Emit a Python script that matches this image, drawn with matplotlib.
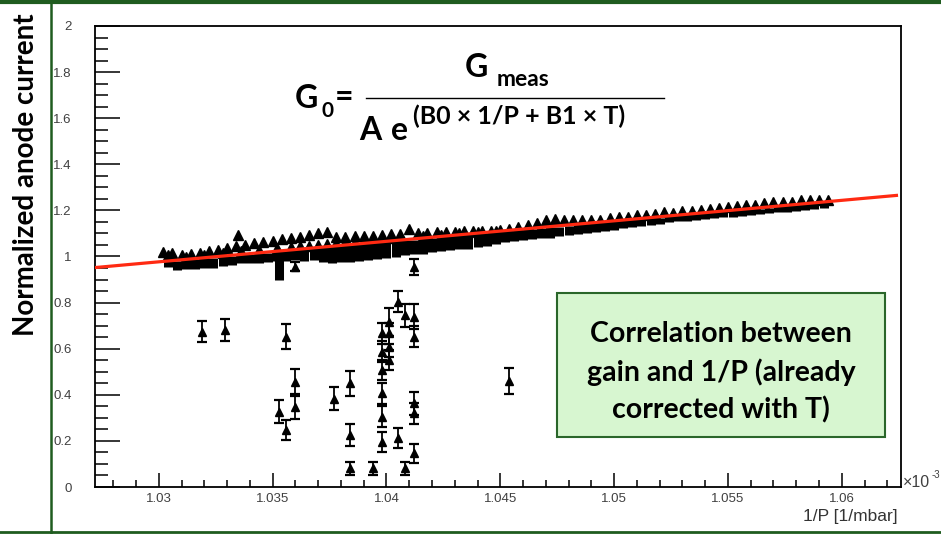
import matplotlib
matplotlib.use("Agg")
import matplotlib.pyplot as plt
from matplotlib.lines import Line2D
from matplotlib.patches import Rectangle
from matplotlib.ticker import MultipleLocator, FormatStrFormatter

# 1/P in units of 1e-3 1/mbar
upper_x = [1.0302, 1.0306, 1.0310, 1.0314, 1.0318, 1.0322, 1.0326, 1.0330, 1.0334, 1.0338,
           1.0342, 1.0346, 1.0350, 1.0354, 1.0358, 1.0362, 1.0366, 1.0370, 1.0374, 1.0378,
           1.0382, 1.0386, 1.0390, 1.0394, 1.0398, 1.0402, 1.0406, 1.0410, 1.0414, 1.0418,
           1.0422, 1.0426, 1.0430, 1.0434, 1.0438, 1.0442, 1.0446, 1.0450, 1.0454, 1.0458,
           1.0462, 1.0466, 1.0470, 1.0474, 1.0478, 1.0482, 1.0486, 1.0490, 1.0494, 1.0498,
           1.0502, 1.0506, 1.0510, 1.0514, 1.0518, 1.0522, 1.0526, 1.0530, 1.0534, 1.0538,
           1.0542, 1.0546, 1.0550, 1.0554, 1.0558, 1.0562, 1.0566, 1.0570, 1.0574, 1.0578,
           1.0582, 1.0586, 1.0590, 1.0594, 1.0335]
upper_y = [1.020, 1.014, 1.008, 1.009, 1.015, 1.023, 1.029, 1.036, 1.044, 1.050,
           1.059, 1.065, 1.068, 1.074, 1.080, 1.085, 1.092, 1.104, 1.105, 1.086,
           1.085, 1.088, 1.089, 1.091, 1.094, 1.097, 1.099, 1.118, 1.103, 1.104,
           1.105, 1.106, 1.107, 1.109, 1.109, 1.110, 1.111, 1.115, 1.120, 1.127,
           1.135, 1.147, 1.158, 1.161, 1.160, 1.158, 1.157, 1.158, 1.159, 1.165,
           1.171, 1.172, 1.178, 1.180, 1.185, 1.191, 1.190, 1.196, 1.197, 1.203,
           1.206, 1.212, 1.213, 1.217, 1.222, 1.224, 1.230, 1.236, 1.237, 1.238,
           1.247, 1.247, 1.247, 1.247, 1.093]

second_x = [1.0304, 1.0312, 1.0320, 1.0328, 1.0336, 1.0344, 1.0352, 1.0358, 1.0362,
            1.0366, 1.0370, 1.0374, 1.0378, 1.0382, 1.0386, 1.0390, 1.0394, 1.0398,
            1.0402, 1.0406, 1.0416, 1.0424, 1.0432, 1.0440, 1.0448]
second_y = [1.005, 1.000, 1.006, 1.014, 1.022, 1.030, 1.036, 1.040, 1.044,
            1.047, 1.051, 1.055, 1.058, 1.062, 1.065, 1.069, 1.072, 1.076,
            1.079, 1.083, 1.088, 1.094, 1.100, 1.106, 1.112]

band_x = [1.0304, 1.0308, 1.0312, 1.0316, 1.0320, 1.0324, 1.0328, 1.0332, 1.0336, 1.0340,
          1.0344, 1.0348, 1.0352, 1.0356, 1.0360, 1.0364, 1.0368, 1.0372, 1.0376, 1.0380,
          1.0384, 1.0388, 1.0392, 1.0396, 1.0400, 1.0404, 1.0408, 1.0412, 1.0416, 1.0420,
          1.0424, 1.0428, 1.0432, 1.0436, 1.0440, 1.0444, 1.0448, 1.0452, 1.0456, 1.0460,
          1.0464, 1.0468, 1.0472, 1.0476, 1.0480, 1.0484, 1.0488, 1.0492, 1.0496, 1.0500,
          1.0504, 1.0508, 1.0512, 1.0516, 1.0520, 1.0524, 1.0528, 1.0532, 1.0536, 1.0540,
          1.0544, 1.0548, 1.0552, 1.0556, 1.0560, 1.0564, 1.0568, 1.0572, 1.0576, 1.0580,
          1.0584, 1.0588, 1.0592, 1.0353]
band_y = [0.968, 0.961, 0.965, 0.966, 0.970, 0.973, 0.979, 0.982, 0.988, 0.991,
          0.993, 0.997, 1.000, 1.002, 1.005, 1.006, 1.009, 1.008, 1.006, 1.010,
          1.013, 1.017, 1.020, 1.024, 1.028, 1.031, 1.038, 1.041, 1.045, 1.050,
          1.054, 1.057, 1.061, 1.064, 1.070, 1.074, 1.080, 1.087, 1.090, 1.094,
          1.097, 1.101, 1.104, 1.110, 1.113, 1.117, 1.121, 1.126, 1.130, 1.133,
          1.139, 1.142, 1.147, 1.150, 1.155, 1.160, 1.164, 1.168, 1.171, 1.175,
          1.178, 1.182, 1.185, 1.189, 1.192, 1.196, 1.199, 1.203, 1.206, 1.210,
          1.213, 1.217, 1.221, 0.965]
band_err = [0.012, 0.020, 0.020, 0.022, 0.022, 0.022, 0.020, 0.020, 0.018, 0.018,
            0.020, 0.020, 0.020, 0.022, 0.022, 0.025, 0.025, 0.030, 0.035, 0.035,
            0.035, 0.035, 0.035, 0.035, 0.035, 0.035, 0.032, 0.032, 0.032, 0.030,
            0.030, 0.030, 0.030, 0.030, 0.028, 0.028, 0.025, 0.022, 0.022, 0.022,
            0.022, 0.022, 0.022, 0.020, 0.020, 0.020, 0.020, 0.018, 0.018, 0.018,
            0.016, 0.016, 0.015, 0.015, 0.014, 0.012, 0.012, 0.012, 0.012, 0.012,
            0.012, 0.012, 0.012, 0.012, 0.012, 0.012, 0.012, 0.012, 0.012, 0.012,
            0.012, 0.012, 0.012, 0.065]

out_x = [1.0319, 1.0329, 1.0356, 1.0353, 1.0356, 1.0360, 1.0360, 1.0377, 1.0384, 1.0384,
         1.0384, 1.0394, 1.0398, 1.0398, 1.0398, 1.0398, 1.0398, 1.0398, 1.0401, 1.0401,
         1.0401, 1.0401, 1.0405, 1.0408, 1.0412, 1.0412, 1.0412, 1.0412, 1.0412, 1.0405,
         1.0408, 1.0412, 1.0454, 1.0360]
out_y = [0.674, 0.681, 0.652, 0.327, 0.247, 0.346, 0.457, 0.382, 0.450, 0.226,
         0.081, 0.081, 0.197, 0.305, 0.407, 0.508, 0.587, 0.667, 0.717, 0.667,
         0.609, 0.551, 0.804, 0.746, 0.739, 0.652, 0.363, 0.320, 0.146, 0.211,
         0.081, 0.955, 0.460, 0.956]
out_err = [0.045, 0.046, 0.053, 0.049, 0.043, 0.050, 0.053, 0.050, 0.054, 0.047,
           0.028, 0.028, 0.043, 0.045, 0.045, 0.045, 0.045, 0.045, 0.060, 0.045,
           0.045, 0.045, 0.045, 0.050, 0.055, 0.045, 0.050, 0.045, 0.040, 0.043,
           0.028, 0.035, 0.058, 0.020]

fit_x = [1.0272, 1.0624]
fit_y = [0.952, 1.265]

W, H = 941, 534
fx = lambda px: px / W
fy = lambda py: 1 - py / H

plt.rcParams['font.family'] = ['Liberation Sans', 'DejaVu Sans']
fig = plt.figure(figsize=(9.41, 5.34), dpi=100)
fig.patch.set_facecolor('white')
ax = fig.add_axes([fx(95), fy(487), (901 - 95) / W, (487 - 26) / H])

ax.errorbar(band_x, band_y, yerr=band_err, fmt='none', ecolor='black', elinewidth=6.5, zorder=2)
ax.errorbar(out_x, out_y, yerr=out_err, fmt='^', color='black', ms=5.5, elinewidth=1.3,
            capsize=3.5, capthick=1.6, zorder=3)
ax.plot(second_x, second_y, '^', color='black', ms=6.5, zorder=3)
ax.plot(upper_x, upper_y, '^', color='black', ms=6.5, zorder=3)
ax.plot(fit_x, fit_y, color='#ff2a12', lw=2.3, zorder=4)

ax.set_xlim(1.0272, 1.0626)
ax.set_ylim(0, 2)
ax.xaxis.set_major_locator(MultipleLocator(0.005))
ax.xaxis.set_minor_locator(MultipleLocator(0.001))
ax.yaxis.set_major_locator(MultipleLocator(0.2))
ax.yaxis.set_minor_locator(MultipleLocator(0.05))
ax.xaxis.set_major_formatter(FormatStrFormatter('%g'))
ax.yaxis.set_major_formatter(FormatStrFormatter('%g'))
ax.tick_params(axis='both', which='both', direction='in', top=False, right=False,
               labelcolor='#404040', labelsize=9.5, color='black')
ax.tick_params(axis='y', which='major', length=18, width=1.1, pad=17)
ax.tick_params(axis='y', which='minor', length=9.5, width=1.1)
ax.tick_params(axis='x', which='major', length=10, width=1.1, pad=4)
ax.tick_params(axis='x', which='minor', length=5, width=1.1)
for s in ax.spines.values():
    s.set_linewidth(1.3)

fig.text(fx(903), fy(487), '×10', ha='left', va='baseline', fontsize=11.5, color='#404040')
fig.text(fx(932), fy(478), '-3', ha='left', va='baseline', fontsize=7, color='#404040')
fig.text(fx(898), fy(521), '1/P [1/mbar]', ha='right', va='baseline', fontsize=12.5, color='#333333')

# slide decoration
green = '#1f5c1f'
fig.add_artist(Line2D([0, 1], [fy(2), fy(2)], color=green, lw=3, transform=fig.transFigure))
fig.add_artist(Line2D([fx(51), fx(51)], [fy(3), fy(534)], color=green, lw=1.8, transform=fig.transFigure))
fig.add_artist(Line2D([0, 1], [fy(531.5), fy(531.5)], color=green, lw=2, transform=fig.transFigure))

bold = dict(family=['Lato', 'DejaVu Sans'], fontweight='bold', color='black')
fig.text(fx(26), fy(175), 'Normalized anode current', rotation=90, ha='center', va='center',
         fontsize=20, **bold)

# formula
fig.text(fx(295), fy(108), 'G', ha='left', va='baseline', fontsize=23, **bold)
fig.text(fx(321), fy(117), '0', ha='left', va='baseline', fontsize=15, **bold)
fig.text(fx(335), fy(97), '=', ha='left', va='center', fontsize=23, **bold)
fig.add_artist(Line2D([fx(366), fx(664)], [fy(97.5), fy(97.5)], color='black', lw=1,
                      transform=fig.transFigure))
fig.text(fx(465), fy(77), 'G', ha='left', va='baseline', fontsize=23, **bold)
fig.text(fx(497), fy(86), 'meas', ha='left', va='baseline', fontsize=16.5, **bold)
fig.text(fx(359), fy(140), 'A', ha='left', va='baseline', fontsize=23, **bold)
fig.text(fx(391), fy(140), 'e', ha='left', va='baseline', fontsize=23, **bold)
fig.text(fx(413), fy(124), '(B0 × 1/P + B1 × T)', ha='left', va='baseline', fontsize=18, **bold)

# comment box
fig.add_artist(Rectangle((fx(557), fy(437)), (885 - 557) / W, (437 - 293) / H,
                         facecolor='#d7f6d0', edgecolor='#2a662a', lw=1.5,
                         transform=fig.transFigure, zorder=5))
for txt, yy in [('Correlation between', 334), ('gain and 1/P (already', 372),
                ('corrected with T)', 410)]:
    fig.text(fx(721), fy(yy), txt, ha='center', va='center', fontsize=20.5, zorder=6, **bold)

fig.savefig('out.png', dpi=100)
